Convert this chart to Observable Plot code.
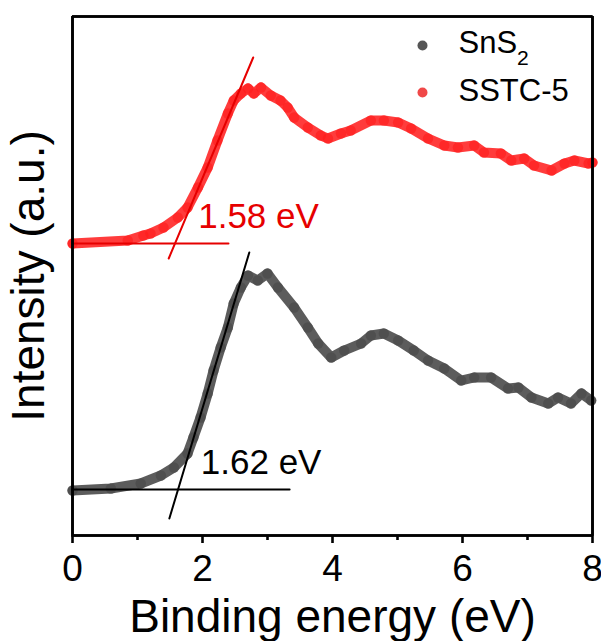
<!DOCTYPE html>
<html>
<head>
<meta charset="utf-8">
<script src="https://cdn.jsdelivr.net/npm/d3@7"></script>
<script src="https://cdn.jsdelivr.net/npm/@observablehq/plot@0.6"></script>
<style>
  body { margin: 0; background: #fff; }
  #chart svg { display: block; font-family: "Liberation Sans", Arial, sans-serif; }
</style>
</head>
<body>
<div id="chart"></div>
<script>
// ---- data ----
const seriesNames = ["SnS2", "SSTC-5"];
const legendColors = ["#555555", "#f04848"];

const energySSTC = [0.00, 0.85, 1.09, 1.20, 1.40, 1.62, 1.77, 1.93, 2.08, 2.23, 2.39, 2.48, 2.59, 2.70, 2.79, 2.90, 3.05, 3.20, 3.31, 3.41, 3.62, 3.82, 3.93, 4.13, 4.28, 4.59, 4.79, 5.01, 5.21, 5.47, 5.72, 5.93, 6.18, 6.33, 6.59, 6.75, 6.95, 7.10, 7.37, 7.57, 7.72, 7.94, 8.00];
const intensitySSTC = [29.2, 29.5, 30.0, 30.2, 30.8, 31.8, 32.8, 34.8, 36.8, 39.5, 42.2, 43.5, 44.2, 44.7, 44.2, 44.8, 44.0, 43.5, 42.8, 41.8, 40.8, 40.0, 39.7, 40.2, 40.5, 41.5, 41.5, 41.3, 40.7, 39.7, 39.0, 38.8, 39.0, 38.3, 38.2, 37.5, 37.7, 37.0, 36.5, 37.2, 37.5, 37.2, 37.3];

const energySnS2 = [0.00, 0.59, 1.05, 1.36, 1.56, 1.77, 1.86, 1.97, 2.08, 2.17, 2.28, 2.39, 2.48, 2.59, 2.70, 2.85, 3.00, 3.16, 3.41, 3.62, 3.78, 3.98, 4.18, 4.44, 4.59, 4.79, 5.01, 5.25, 5.47, 5.72, 5.98, 6.18, 6.44, 6.70, 6.86, 7.06, 7.32, 7.47, 7.67, 7.83, 7.98];
const intensitySnS2 = [4.5, 4.7, 5.2, 6.0, 6.8, 8.2, 9.8, 11.8, 14.2, 16.5, 18.8, 20.8, 23.2, 24.8, 26.0, 25.5, 26.2, 24.8, 22.8, 20.8, 19.2, 17.8, 18.5, 19.2, 20.0, 20.2, 19.5, 18.5, 17.5, 16.7, 15.5, 15.8, 15.8, 14.7, 14.8, 13.8, 13.2, 13.8, 13.2, 14.2, 13.5];

// extrapolation lines: [x0, y0, x1, y1]
const baselineSSTC = [0, 29.2, 2.40, 29.2];
const tangentSSTC  = [1.48, 27.7, 2.78, 47.8];
const baselineSnS2 = [0, 4.6, 3.34, 4.6];
const tangentSnS2  = [1.49, 1.7, 2.72, 28.3];

const gapValues = [1.58, 1.62];
const gapBaselines = [29.2, 4.6];
const gapLabels = ["1.58 eV", "1.62 eV"];
const gapColors = ["#e60000", "black"];

const xDomain = [0, 8];
const yDomain = [0, 51.9];
const xMajorTicks = [0, 2, 4, 6, 8];
const xMinorTicks = [1, 3, 5, 7];
const xLabel = "Binding energy (eV)";
const yLabel = "Intensity (a.u.)";

// ---- build tables ----
const sstc = energySSTC.map((x, i) => ({x, y: intensitySSTC[i]}));
const sns2 = energySnS2.map((x, i) => ({x, y: intensitySnS2[i]}));
const seg = a => [{x: a[0], y: a[1]}, {x: a[2], y: a[3]}];
// closed outline of the plotting area, built from the scale domains
const boxPath = [
  {x: xDomain[0], y: yDomain[0]}, {x: xDomain[0], y: yDomain[1]},
  {x: xDomain[1], y: yDomain[1]}, {x: xDomain[1], y: yDomain[0]},
  {x: xDomain[0], y: yDomain[0]}
];

const RED = "#ff1a1a";
const GRAY = "#4a4a4a";

const gapMarks = gapValues.map((g, i) =>
  Plot.text([gapLabels[i]], {x: () => g, y: () => gapBaselines[i], text: d => d, textAnchor: "start",
    lineAnchor: "middle", dx: 23, dy: -27, fontSize: 35, fill: gapColors[i]})
);

const legendMarks = seriesNames.flatMap((name, i) => [
  Plot.dot([name], {frameAnchor: "top-right", dx: -170, dy: 29 + 47 * i, r: 5, fill: legendColors[i]}),
  Plot.text([name], {frameAnchor: "top-right", dx: -134, dy: 27 + 48 * i, textAnchor: "start",
    lineAnchor: "middle", fontSize: 31, fill: "black"})
]);

const chart = Plot.plot({
  width: 601,
  height: 641,
  marginLeft: 72,
  marginRight: 9,
  marginTop: 16,
  marginBottom: 106,
  style: {fontFamily: '"Liberation Sans", Arial, sans-serif', background: "white"},
  x: {domain: xDomain, axis: null},
  y: {domain: yDomain, axis: null},
  marks: [
    Plot.line(sns2, {x: "x", y: "y", stroke: GRAY, strokeWidth: 10, strokeOpacity: 0.9, strokeLinejoin: "round", strokeLinecap: "round"}),
    Plot.dot(sns2, {x: "x", y: "y", r: 5.2, fill: GRAY, fillOpacity: 0.7}),
    Plot.line(sstc, {x: "x", y: "y", stroke: RED, strokeWidth: 10, strokeOpacity: 0.85, strokeLinejoin: "round", strokeLinecap: "round"}),
    Plot.dot(sstc, {x: "x", y: "y", r: 5.2, fill: RED, fillOpacity: 0.6}),
    Plot.line(seg(baselineSSTC), {x: "x", y: "y", stroke: "#e60000", strokeWidth: 2}),
    Plot.line(seg(tangentSSTC), {x: "x", y: "y", stroke: "#e60000", strokeWidth: 2}),
    Plot.line(seg(baselineSnS2), {x: "x", y: "y", stroke: "black", strokeWidth: 2}),
    Plot.line(seg(tangentSnS2), {x: "x", y: "y", stroke: "black", strokeWidth: 2}),
    ...gapMarks,
    Plot.axisX({ticks: xMajorTicks, tickSize: 8, tickPadding: 11, fontSize: 37, strokeWidth: 2.6,
      tickFormat: d => String(d), label: null, color: "black"}),
    Plot.axisX({ticks: xMinorTicks, tickSize: 5, strokeWidth: 2.6, tickFormat: () => "", label: null}),
    Plot.text([xLabel], {frameAnchor: "bottom", dy: 82, textAnchor: "middle", lineAnchor: "middle", fontSize: 46, fill: "black"}),
    Plot.text([yLabel], {frameAnchor: "left", rotate: -90, dx: -43, textAnchor: "middle", lineAnchor: "middle", fontSize: 46, fill: "black"}),
    ...legendMarks,
    Plot.line(boxPath, {x: "x", y: "y", stroke: "black", strokeWidth: 2.6, strokeLinejoin: "miter", strokeLinecap: "square"}),
    Plot.ruleX(xDomain, {stroke: "black", strokeWidth: 2.6}),
    Plot.ruleY(yDomain, {stroke: "black", strokeWidth: 2.6})
  ]
});

// subscript in SnS2
d3.select(chart).selectAll("text").each(function () {
  const t = d3.select(this);
  if (t.text() === "SnS2" && t.selectAll("tspan").empty()) {
    t.text(null);
    t.append("tspan").text("SnS");
    t.append("tspan").attr("baseline-shift", "sub").attr("font-size", "0.68em").text("2");
  }
});

document.getElementById("chart").append(chart);
</script>
</body>
</html>
